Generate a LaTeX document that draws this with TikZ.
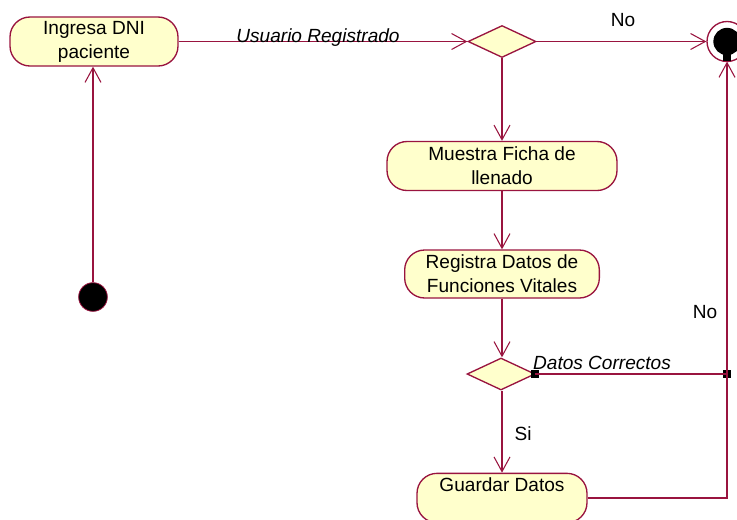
\documentclass[tikz,border=0pt]{standalone}
\usepackage{fontspec}
\setmainfont{Liberation Sans}
\usetikzlibrary{arrows.meta,shapes.geometric}
\definecolor{edgec}{HTML}{99143F}
\definecolor{fillc}{HTML}{FFFFCC}
\tikzset{
  act/.style={draw=edgec, fill=fillc, line width=1pt, rounded corners=15pt, align=center, inner sep=0pt, font=\fontsize{14.3}{18}\selectfont},
  dec/.style={draw=edgec, fill=fillc, line width=1pt, diamond, inner sep=0pt, minimum width=51pt, minimum height=24pt},
  flow/.style={draw=edgec, line width=1pt, -{Straight Barb[length=11pt,width=12pt,line width=0.8pt]}},
  plain/.style={draw=edgec, line width=1pt},
  lbl/.style={font=\fontsize{14.3}{16}\selectfont, inner sep=0pt},
  port/.style={fill=black, minimum size=6.5pt, inner sep=0pt, rectangle}
}
\begin{document}
\begin{tikzpicture}[x=0.75pt,y=-0.75pt]
\useasboundingbox (0,0) rectangle (737,519);
\node[act, minimum width=126pt, minimum height=36.75pt] (ing) at (94,41.5) {Ingresa DNI\\paciente};
\node[dec] (d1) at (502,41.5) {};
\node[act, minimum width=172.5pt, minimum height=36.75pt] (mue) at (502,166) {Muestra Ficha de\\llenado};
\node[act, minimum width=146pt, minimum height=36pt] (reg) at (502,274) {Registra Datos de\\Funciones Vitales};
\node[dec] (d2) at (501,374) {};
\node[act, minimum width=127.5pt, minimum height=37pt, text depth=20pt] (gua) at (502,498) {Guardar Datos};
\node[circle, fill=black, draw=edgec, line width=0.6pt, minimum size=21.5pt, inner sep=0pt] (ini) at (93,297) {};
\node[circle, draw=edgec, fill=white, line width=1pt, minimum size=30pt, inner sep=0pt] (fin) at (727,41.5) {};
\fill[black] (fin.center) circle (10.25pt);
\node[port] (pf) at (727,57) {};
\node[port] (p1) at (535,374) {};
\node[port] (p2) at (727,374) {};
% connectors
\draw[flow] (ing.east) -- (d1.west);
\node[lbl, font=\fontsize{14.3}{16}\selectfont\itshape] (l1) at (318,38) {Usuario Registrado};
\draw[flow] (d1.east) -- (fin.west);
\node[lbl] (l2) at (623,20) {No};
\draw[flow] (d1.south) -- (d1.south |- mue.north);
\draw[flow] (mue.south) -- (reg.north);
\draw[flow] (reg.south) -- (reg.south |- d2.north);
\draw[flow] (reg.south |- d2.south) -- (gua.north);
\node[lbl] (l3) at (523,434) {Si};
\draw[plain] (p1.center) -- (p2.center);
\node[lbl, font=\fontsize{14.3}{16}\selectfont\itshape] (l4) at (602,363) {Datos Correctos};
\draw[flow] (gua.east |- 0,498) -| (pf.south);
\node[lbl] (l5) at (705,312) {No};
\draw[flow] (ini.north) -- (ini |- ing.south);
\end{tikzpicture}
\end{document}
